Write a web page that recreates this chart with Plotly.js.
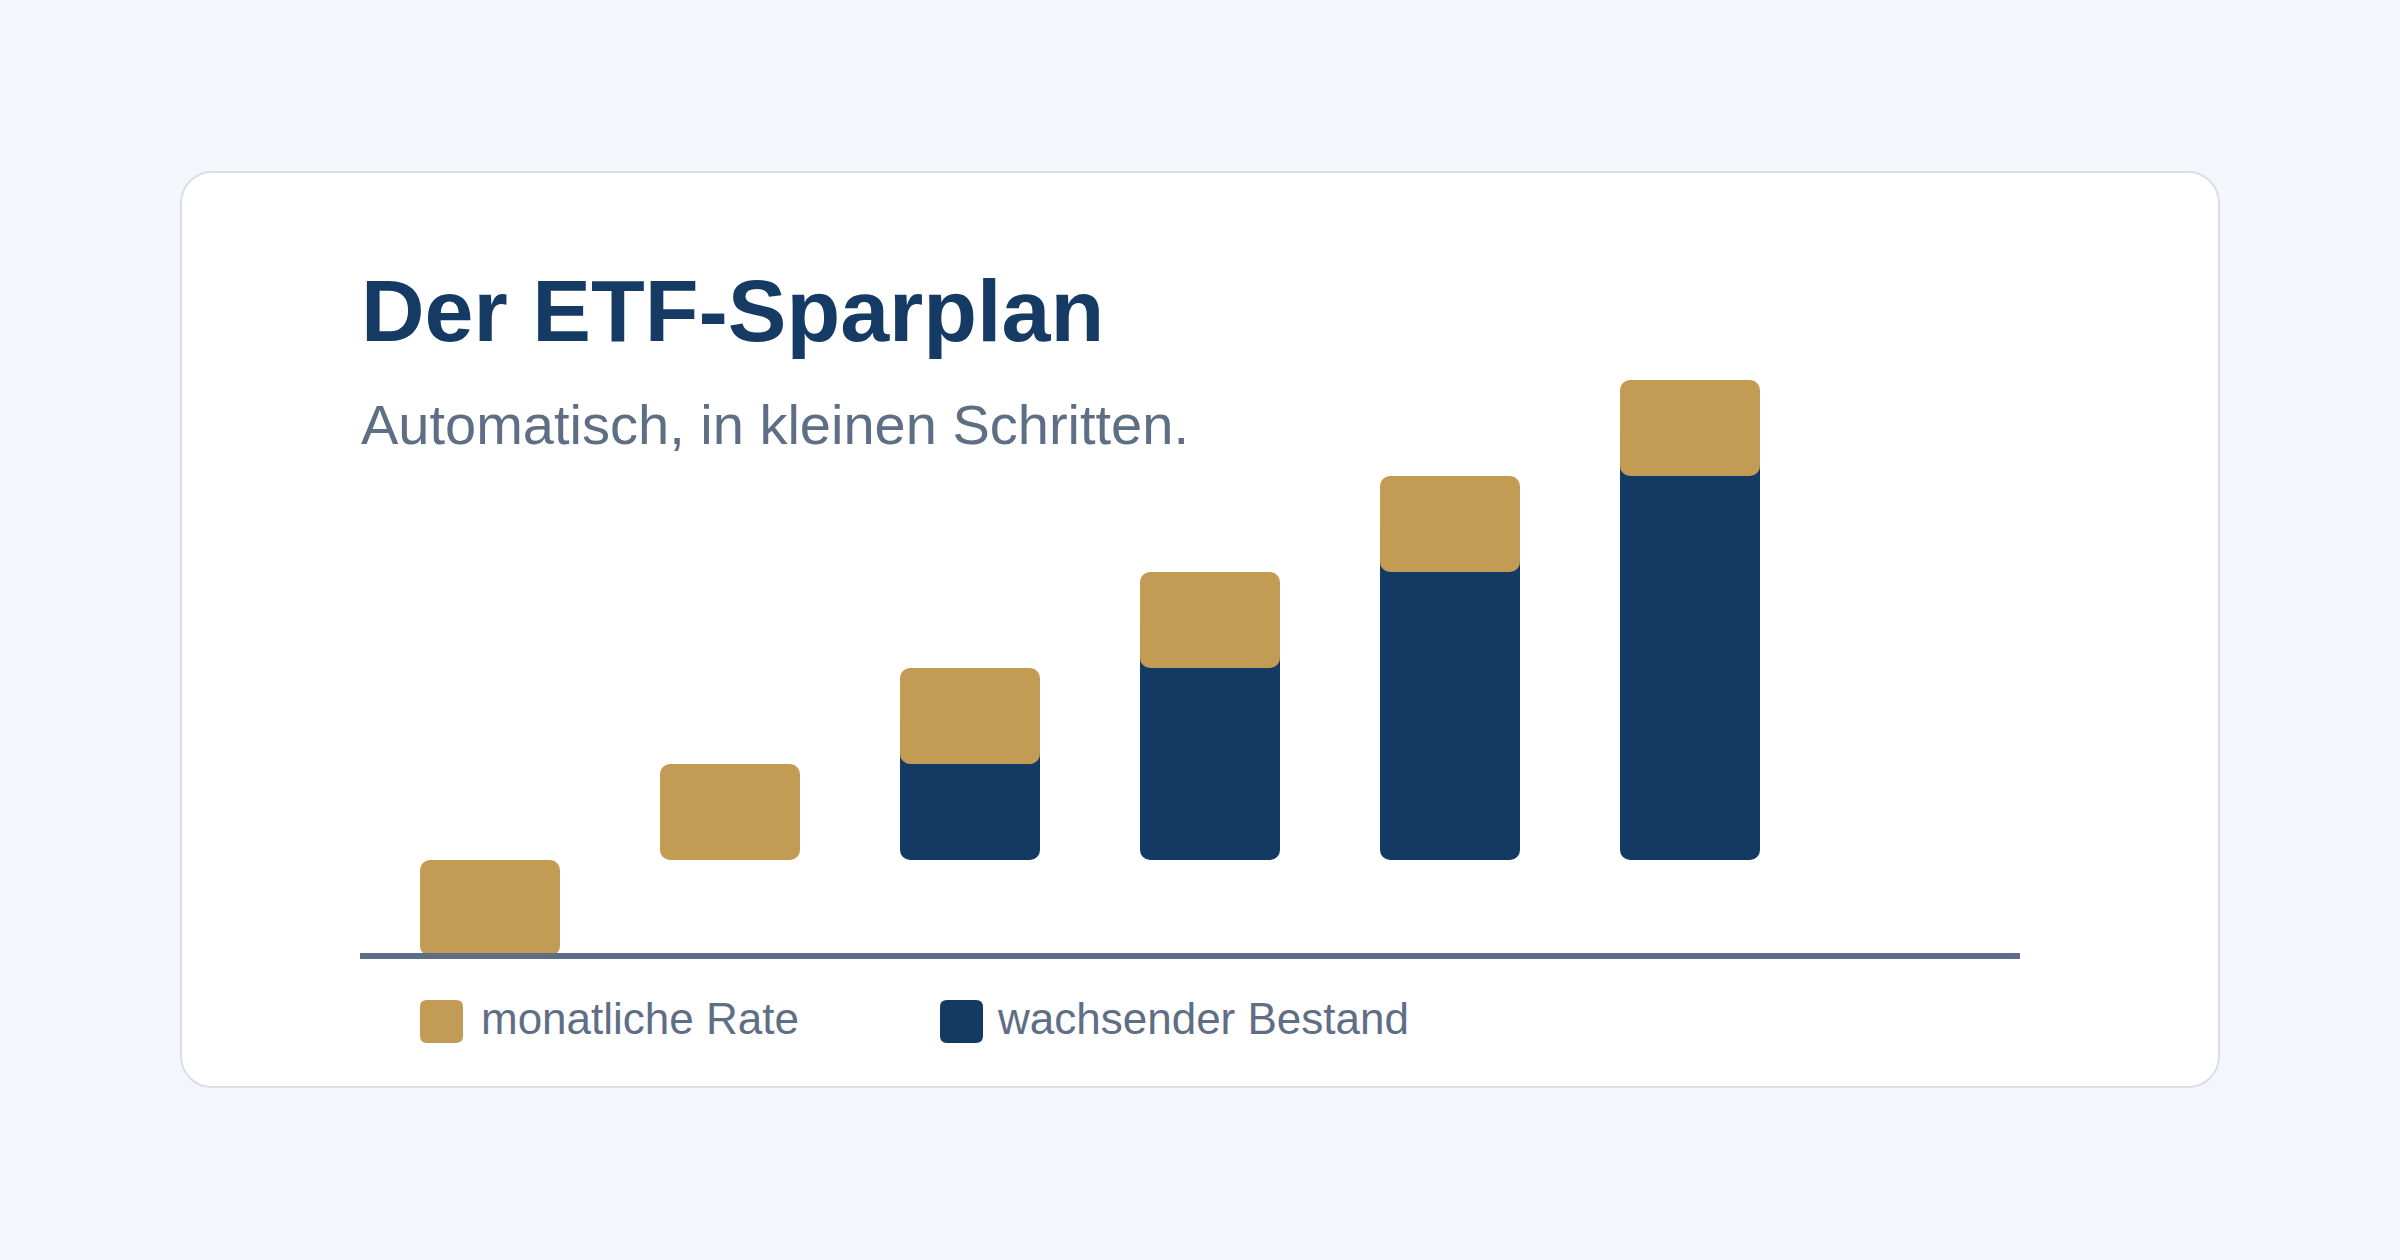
<!DOCTYPE html>
<html>
<head>
<meta charset="utf-8">
<script src="https://cdn.plot.ly/plotly-3.0.1.min.js"></script>
<style>
  html, body { margin: 0; padding: 0; background: #f3f6fb; }
  #card {
    position: absolute; left: 180px; top: 171px;
    width: 2036px; height: 913px;
    background: #ffffff; border: 2px solid #d9dfe8; border-radius: 32px;
  }
  #chart { position: absolute; left: 0; top: 0; width: 2400px; height: 1260px; }
</style>
</head>
<body>
<div id="card"></div>
<div id="chart"></div>
<script>
// Sparplan: each step adds one monthly rate on top of the growing stock
const schritte = [1, 2, 3, 4, 5, 6];
const rate     = [1, 1, 1, 1, 1, 1];
const bestand  = [0, 0, 1, 2, 3, 4];
const sockel   = [0, 1, 1, 1, 1, 1];

const titel      = 'Der ETF-Sparplan';
const untertitel = 'Automatisch, in kleinen Schritten.';
const legende    = ['monatliche Rate', 'wachsender Bestand'];

const GOLD = '#c29b55';
const NAVY = '#143962';
const GRAU = '#5e6e85';
const FONT = 'Liberation Sans, Arial, sans-serif';
const RADIUS = 10;
const BAR_W = 0.5833;
const Y_MAX = 7;

const navyTop = bestand.map((b, i) => sockel[i] + b);

// the stock continues underneath the rate block (which is drawn over it),
// so the rate's rounded lower corners show navy instead of a gap
const navyUnterlage = bestand.map((b, i) => (b > 0 ? b + rate[i] / 2 : 0));
const navy = {
  type: 'bar', x: schritte, base: sockel, y: navyUnterlage, width: BAR_W,
  marker: { color: NAVY, cornerradius: RADIUS, line: { width: 0 } },
  hoverinfo: 'skip'
};

// the monthly rate sits on top of the stock
const gold = {
  type: 'bar', x: schritte, base: navyTop, y: rate, width: BAR_W,
  marker: { color: GOLD, cornerradius: RADIUS, line: { width: 0 } },
  hoverinfo: 'skip'
};

// rounded square for the legend keys, in pixels from its anchor
function keyPath(s, r) {
  return `M ${r},0 H ${s - r} Q ${s},0 ${s},${r} V ${s - r} Q ${s},${s} ${s - r},${s} ` +
         `H ${r} Q 0,${s} 0,${s - r} V ${r} Q 0,0 ${r},0 Z`;
}
function legendKey(xPaper, color) {
  return {
    type: 'path', xref: 'paper', yref: 'paper',
    xsizemode: 'pixel', ysizemode: 'pixel',
    xanchor: xPaper, yanchor: -0.1295,
    path: keyPath(43, 7), fillcolor: color, line: { width: 0 }, layer: 'above'
  };
}

const layout = {
  width: 2400, height: 1260,
  margin: { l: 360, r: 380, t: 284, b: 304, pad: 0 },
  paper_bgcolor: 'rgba(0,0,0,0)', plot_bgcolor: 'rgba(0,0,0,0)',
  barmode: 'overlay', showlegend: false,
  font: { family: FONT, color: GRAU },
  xaxis: { range: [0.4583, 7.375], visible: false, fixedrange: true },
  yaxis: { range: [0, Y_MAX], visible: false, fixedrange: true },
  shapes: [
    // baseline
    { type: 'line', xref: 'paper', yref: 'paper', x0: 0, x1: 1, y0: 0, y1: 0,
      line: { color: '#5f6e84', width: 6 }, layer: 'above' },
    legendKey(0.03614, GOLD),
    legendKey(0.34940, NAVY)
  ],
  annotations: [
    { text: titel, xref: 'paper', yref: 'paper', x: 0, y: 0.9613,
      xanchor: 'left', yanchor: 'middle', showarrow: false, borderpad: 0,
      font: { family: FONT, size: 88, color: '#153a63', weight: 'bold' } },
    { text: untertitel, xref: 'paper', yref: 'paper', x: 0, y: 0.7902,
      xanchor: 'left', yanchor: 'middle', showarrow: false, borderpad: 0,
      font: { family: FONT, size: 56, color: GRAU } },
    { text: legende[0], xref: 'paper', yref: 'paper', x: 0.0723, y: -0.0929,
      xanchor: 'left', yanchor: 'middle', showarrow: false, borderpad: 0,
      font: { family: FONT, size: 44, color: GRAU } },
    { text: legende[1], xref: 'paper', yref: 'paper', x: 0.3831, y: -0.0929,
      xanchor: 'left', yanchor: 'middle', showarrow: false, borderpad: 0,
      font: { family: FONT, size: 44, color: GRAU } }
  ]
};

Plotly.newPlot('chart', [navy, gold], layout, { staticPlot: true, displayModeBar: false });
</script>
</body>
</html>
